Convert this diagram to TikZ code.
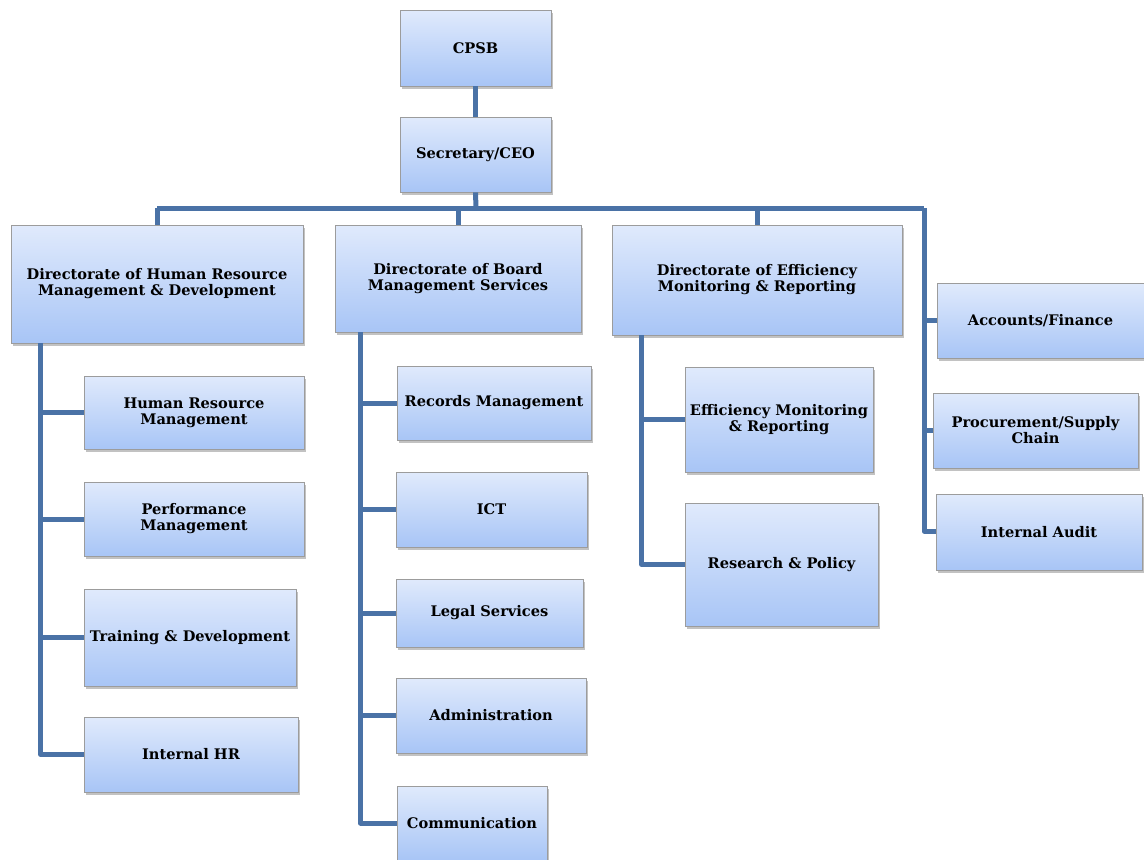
\documentclass[tikz,border=0pt]{standalone}
\usepackage{fontspec}
\setmainfont{DejaVu Serif}
\usetikzlibrary{shadows}
\definecolor{linec}{HTML}{4A72A6}
\definecolor{edgec}{HTML}{9C9C9C}
\definecolor{topc}{HTML}{E0EAFC}
\definecolor{midc}{HTML}{D2E0FA}
\definecolor{botc}{HTML}{A8C5F6}
\tikzset{
  box/.style={draw=edgec, line width=0.8pt, top color=topc, middle color=midc, bottom color=botc,
    align=center, font=\fontsize{14.6}{16}\selectfont\bfseries, inner sep=1pt,
    drop shadow={shadow xshift=2pt, shadow yshift=-2.5pt, opacity=0.4, fill=black!60}},
  conn/.style={draw=linec, line width=5pt, line join=round}
}
\newcommand{\bx}[7]{\node[box, minimum width=#4-#2, minimum height=#5-#3] (#1) at ({(#2+#4)/2},{(#3+#5)/2}) {#7};}
\begin{document}
\begin{tikzpicture}[x=1pt,y=-1pt]
\useasboundingbox (0,0) rectangle (1144,860);
% top
\bx{cpsb}{400}{10}{551}{86}{}{CPSB}
\bx{sec}{400}{117}{551}{192}{}{Secretary/CEO}
% directorates
\bx{hrd}{11}{225}{303}{343}{}{Directorate of Human Resource\\Management \& Development}
\bx{bms}{335}{225}{581}{332}{}{Directorate of Board\\Management Services}
\bx{emr}{612}{225}{902}{335}{}{Directorate of Efficiency\\Monitoring \& Reporting}
% HR children
\bx{hrm}{84}{376}{304}{449}{}{Human Resource\\Management}
\bx{pm}{84}{482}{304}{556}{}{Performance\\Management}
\bx{td}{84}{589}{296}{686}{}{Training \& Development}
\bx{ihr}{84}{717}{298}{792}{}{Internal HR}
% Board children
\bx{rm}{397}{366}{591}{440}{}{Records Management}
\bx{ict}{396}{472}{587}{547}{}{ICT}
\bx{ls}{396}{579}{583}{647}{}{Legal Services}
\bx{adm}{396}{678}{586}{753}{}{Administration}
\bx{com}{397}{786}{547}{860}{}{Communication}
% Efficiency children
\bx{emrc}{685}{367}{873}{472}{}{Efficiency Monitoring\\\& Reporting}
\bx{rp}{685}{503}{878}{626}{}{Research \& Policy}
% right column
\bx{acc}{937}{283}{1144}{358}{}{Accounts/Finance}
\bx{proc}{933}{393}{1138}{468}{}{Procurement/Supply\\Chain}
\bx{ia}{936}{494}{1142}{570}{}{Internal Audit}
% connectors
\coordinate (bus) at (476,208);
\coordinate (rc) at (924,208);
\draw[conn] (cpsb.south) -- (sec.north);
\draw[conn] (sec.south) -- (bus);
\draw[conn] (bus -| hrd.north) -- (rc);
\draw[conn] (bus -| hrd.north) -- (hrd.north);
\draw[conn] (bus -| bms.north) -- (bms.north);
\draw[conn] (bus -| emr.north) -- (emr.north);
\draw[conn] ([xshift=30pt]hrd.south west) |- (hrm.west);
\draw[conn] ([xshift=30pt]hrd.south west) |- (pm.west);
\draw[conn] ([xshift=30pt]hrd.south west) |- (td.west);
\draw[conn] ([xshift=30pt]hrd.south west) |- (ihr.west);
\draw[conn] ([xshift=26pt]bms.south west) |- (rm.west);
\draw[conn] ([xshift=26pt]bms.south west) |- (ict.west);
\draw[conn] ([xshift=26pt]bms.south west) |- (ls.west);
\draw[conn] ([xshift=26pt]bms.south west) |- (adm.west);
\draw[conn] ([xshift=26pt]bms.south west) |- (com.west);
\draw[conn] ([xshift=30pt]emr.south west) |- (emrc.west);
\draw[conn] ([xshift=30pt]emr.south west) |- (rp.west);
\draw[conn] (rc) |- (acc.west);
\draw[conn] (rc) |- (proc.west);
\draw[conn] (rc) |- ([yshift=1pt]ia.west);
\end{tikzpicture}
\end{document}
